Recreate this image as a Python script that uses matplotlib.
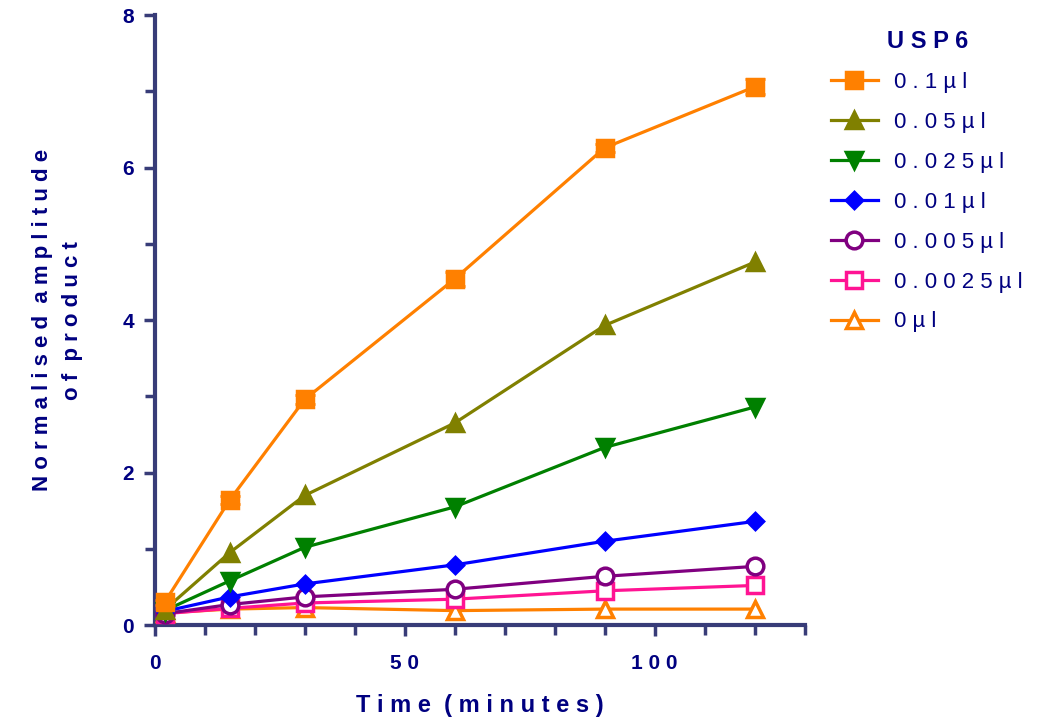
import matplotlib.pyplot as plt
from matplotlib.ticker import MultipleLocator, FuncFormatter

plt.rcParams['font.family'] = ['Liberation Sans', 'DejaVu Sans']

time_min = [2, 15, 30, 60, 90, 120]

labels = ["0.1\u00b5l", "0.05\u00b5l", "0.025\u00b5l", "0.01\u00b5l",
          "0.005\u00b5l", "0.0025\u00b5l", "0\u00b5l"]

usp_01 = [0.30, 1.64, 2.96, 4.54, 6.26, 7.06]
usp_005 = [0.20, 0.95, 1.70, 2.65, 3.93, 4.76]
usp_0025 = [0.19, 0.58, 1.02, 1.55, 2.33, 2.86]
usp_001 = [0.18, 0.37, 0.54, 0.79, 1.10, 1.36]
usp_0005 = [0.15, 0.27, 0.37, 0.47, 0.64, 0.77]
usp_00025 = [0.15, 0.22, 0.29, 0.34, 0.45, 0.52]
usp_0 = [0.16, 0.21, 0.23, 0.19, 0.21, 0.21]

err_01 = [0.03, 0.05, 0.06, 0.09, 0.05, 0.10]

navy = "#000080"
axcol = "#383c78"


def spaced(s):
    # wide tracking like the original Prism export
    return " ".join(s)


series = [usp_01, usp_005, usp_0025, usp_001, usp_0005, usp_00025, usp_0]
colors = ["#ff8000", "#808000", "#008000", "#0000ff", "#800080", "#ff1493", "#ff8000"]
markers = ["s", "^", "v", "D", "o", "s", "^"]
filled = [True, True, True, True, False, False, False]
msizes = [12, 11, 11, 8, 12, 12, 11]

fig = plt.figure(figsize=(10.45, 7.21), dpi=100)
ax = fig.add_axes([0.148, 0.133, 0.622, 0.846])

for i in range(len(series)):
    ax.plot(time_min, series[i], color=colors[i], lw=2.3, marker=markers[i],
            ms=msizes[i], mew=2.5,
            mfc=colors[i] if filled[i] else "white", mec=colors[i],
            label=spaced(labels[i]), zorder=10 - i)

ax.errorbar(time_min, usp_01, yerr=err_01, fmt="none", ecolor=colors[0],
            elinewidth=2, capsize=7, capthick=2, zorder=11)

ax.set_xlim(0, 130)
ax.set_ylim(0, 8)
ax.xaxis.set_major_locator(MultipleLocator(50))
ax.xaxis.set_minor_locator(MultipleLocator(10))
ax.yaxis.set_major_locator(MultipleLocator(2))
ax.yaxis.set_minor_locator(MultipleLocator(1))
ax.xaxis.set_major_formatter(FuncFormatter(lambda v, p: spaced(str(int(v)))))

for s in ["top", "right"]:
    ax.spines[s].set_visible(False)
for s in ["left", "bottom"]:
    ax.spines[s].set_color(axcol)
    ax.spines[s].set_linewidth(3)

ax.tick_params(which="both", direction="out", color=axcol, width=2.5)
ax.tick_params(which="major", length=8, labelsize=15, labelcolor=navy)
ax.tick_params(which="minor", length=7)
ax.tick_params(axis="x", which="major", pad=13)
ax.tick_params(axis="y", which="major", pad=7)
for t in ax.get_xticklabels() + ax.get_yticklabels():
    t.set_fontweight("bold")

ax.set_xlabel(spaced("Time") + "  " + spaced("(minutes)"), fontsize=17,
              fontweight="bold", color=navy, labelpad=15)
ax.set_ylabel(spaced("Normalised") + "  " + spaced("amplitude") + "\n"
              + spaced("of") + "  " + spaced("product"),
              fontsize=16, fontweight="bold", color=navy, linespacing=1.6)
ax.yaxis.set_label_coords(-0.11, 0.5)

leg = ax.legend(loc="upper left", bbox_to_anchor=(1.01, 1.008), frameon=False,
                fontsize=16, handlelength=2.1, handletextpad=0.75,
                labelspacing=0.85, title=spaced("USP6"),
                title_fontproperties={"size": 17, "weight": "bold"})
leg.get_title().set_color(navy)
for t in leg.get_texts():
    t.set_color(navy)

fig.savefig("out.png", dpi=100)
